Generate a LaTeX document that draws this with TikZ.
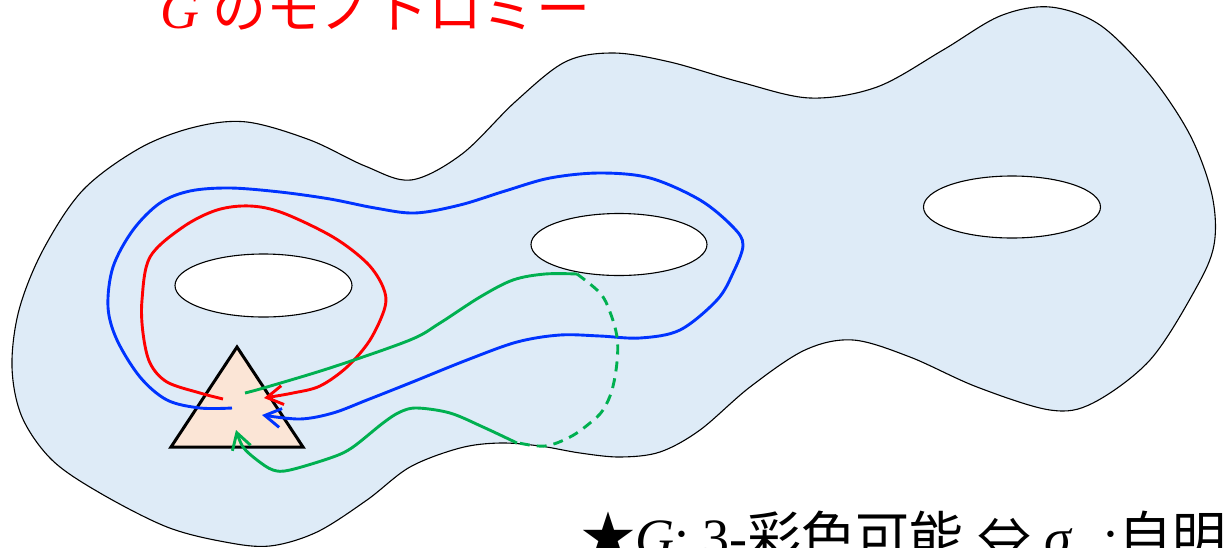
\documentclass[tikz,border=0pt]{standalone}
\usepackage{fontspec}
\setmainfont{Liberation Serif}
\newfontfamily\jpfont{Noto Sans CJK JP}
\usetikzlibrary{arrows.meta}
\definecolor{surface}{HTML}{DEEBF7}
\definecolor{basefill}{HTML}{FBE5D6}
\definecolor{loopred}{HTML}{FF0000}
\definecolor{loopblue}{HTML}{0033FF}
\definecolor{loopgreen}{HTML}{00B050}
\begin{document}
\begin{tikzpicture}[x=1pt,y=-1pt,
  outline/.style={draw=black,line width=1.1pt},
  hole/.style={outline,fill=white},
  loopline/.style={line width=2.9pt},
  tipped/.style={-{Straight Barb[length=16pt,width=19pt]}},
  bigtext/.style={inner sep=0pt,anchor=base west,font=\fontsize{54}{62}\selectfont}]
\useasboundingbox (0,0) rectangle (1226,547);
\clip (0,0) rectangle (1226,547);

% the surface
\draw[outline,fill=surface] plot[smooth cycle,tension=0.55] coordinates {
 (247,122) (310,140) (365,166) (411,180) (462,154) (515,102) (565,62)
 (613,53) (670,62) (740,82) (810,98) (877,87) (943,50)
 (1000,16) (1050,7) (1100,25) (1150,75) (1190,135) (1212,195)
 (1214,245) (1195,290) (1150,360) (1093,403) (1050,410)
 (977,387) (910,357) (853,340) (805,350) (750,387)
 (700,430) (660,452) (620,457) (580,453) (540,446) (500,443)
 (460,448) (410,467) (367,500) (317,532) (270,546) (225,542)
 (167,527) (100,493) (52,460) (22,417) (12,367) (19,310) (43,250)
 (83,190) (140,148) (195,127)};

% the three holes
\draw[hole] (263.5,285.5) ellipse [x radius=88.5,y radius=31.5];
\draw[hole] (619,244.5) ellipse [x radius=88,y radius=31];
\draw[hole] (1012,207) ellipse [x radius=88.5,y radius=31];

% base point
\coordinate (apex) at (237,347);
\coordinate (bl) at (171,447);
\coordinate (br) at (303,447);
\draw[line width=3pt,fill=basefill,line join=miter] (apex) -- (bl) -- (br) -- cycle;

% red loop around the left hole
\draw[loopline,loopred,tipped] plot[smooth,tension=0.55] coordinates {
 (223,399) (200,393) (167,382) (150,363) (143,333) (142,300) (150,257)
 (183,227) (217,210) (250,206) (283,213) (333,237) (367,263) (383,287)
 (385,307) (370,340) (347,367) (320,386) (293,393) (264,398)};

% blue loop around the left and middle holes
\draw[loopline,loopblue,tipped] plot[smooth,tension=0.55] coordinates {
 (232,408) (200,408) (167,400) (140,377) (117,340) (108,307) (113,267)
 (133,230) (160,203) (190,191) (230,188) (280,192) (330,199) (375,208)
 (415,213) (460,205) (505,191) (550,178) (600,173) (650,178) (700,200)
 (733,227) (743,245) (733,273) (717,300) (680,330) (640,338) (600,336)
 (560,335) (517,342) (467,360) (410,383) (367,400) (333,413) (300,419)
 (262,415)};

% green loop through the middle hole
\draw[loopline,loopgreen] plot[smooth,tension=0.55] coordinates {
 (245,393) (267,387) (333,367) (410,340) (440,323) (480,297) (513,280)
 (545,274) (577,274)};
\draw[loopline,loopgreen,dash pattern=on 10pt off 7pt] plot[smooth,tension=0.6] coordinates {
 (577,274) (600,293) (610,312) (617,337) (617,362) (612,390) (603,410)
 (590,423) (570,437) (545,446) (519,443)};
\draw[loopline,loopgreen,tipped] plot[smooth,tension=0.55] coordinates {
 (517,443) (483,427) (450,413) (417,408) (400,412) (383,423) (353,447)
 (333,457) (290,470) (273,470) (257,460) (243,447) (236,430)};

% captions
\node[bigtext,text=loopred] (title) at (160,28)
  {\textit{G} {\jpfont のモノトロミー}};
\node[bigtext] (cond) at (581,556)
  {{\jpfont ★}\textit{G}: 3-{\jpfont 彩色可能} {\jpfont ⇔} \textit{σ}\hspace{30pt}:{\jpfont 自明}};
\end{tikzpicture}
\end{document}
